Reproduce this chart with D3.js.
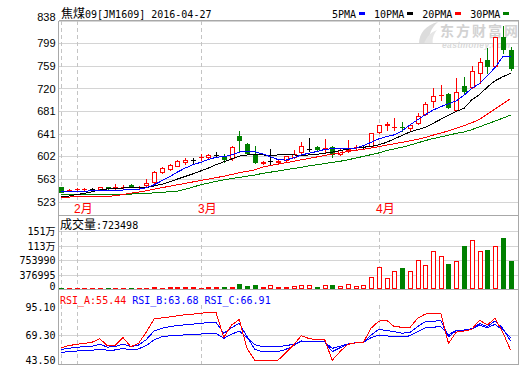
<!DOCTYPE html>
<html lang="zh">
<head>
<meta charset="utf-8">
<title>焦煤09 日K线</title>
<style>
body { margin: 0; background: #fff; }
svg { display: block; }
</style>
</head>
<body>
<script src="https://d3js.org/d3.v7.min.js"></script>
<script>
var w = 520, h = 365;

// trading days shown
var days = ["01-28","01-29",
  "02-01","02-02","02-03","02-04","02-05","02-15","02-16","02-17","02-18","02-19","02-22","02-23","02-24","02-25","02-26","02-29",
  "03-01","03-02","03-03","03-04","03-07","03-08","03-09","03-10","03-11","03-14","03-15","03-16","03-17","03-18","03-21","03-22","03-23","03-24","03-25","03-28","03-29","03-30","03-31",
  "04-01","04-05","04-06","04-07","04-08","04-11","04-12","04-13","04-14","04-15","04-18","04-19","04-20","04-21","04-22","04-25","04-26","04-27"];

var open  = [548,543,544,544,545,545,548,547,548,552,548,552,557,574,579,585,591,595,600,600,604,602,598,637,623,604,590,593,591,595,601,609,614,617,615,617,606,613,617,617,620,644,657,652,653,651,659,675,698,708,710,683,724,722,746,769,759,809,787];
var high  = [549,545,546,546,547,549,549,553,551,553,550,562,576,583,588,595,598,599,605,605,609,606,620,645,624,619,593,614,595,603,612,627,633,620,631,620,614,630,621,622,643,657,662,668,662,656,677,696,720,726,712,738,740,758,772,790,810,829,792];
var low   = [539,541,542,542,543,544,545,545,546,548,546,549,556,573,578,584,589,588,596,598,600,592,596,611,606,590,588,589,589,594,599,608,611,613,607,601,604,610,612,614,619,643,647,647,645,646,658,674,688,700,686,682,710,720,729,746,758,781,752];
var close = [540,543.5,544.5,544.5,545,548,546.5,547.5,549,549,548.5,556,575,581,586,593,596,595,601,604,604,597,617,630,607,592,592,593,594,602,606,619,614,615,616,606,613,614,618,617,642,656,658,653,652.5,656,671,693,706,708.5,687,714,716,750,766,759,809,789,756];

var volume = [30000,22000,25000,24000,20000,30000,28000,26000,25000,30000,22000,35000,40000,38000,60000,58000,62000,55000,30000,55000,50000,52000,60000,120000,70000,95000,
  52000,104000,52000,52000,69000,104000,104000,52000,104000,104000,69000,130000,69000,104000,312000,572000,286000,468000,554000,468000,754000,624000,988000,858000,658000,728000,1126000,1274000,988000,1022000,1118000,1334000,723498];

var ma5  = [540,540,540.5,541,541.5,542,542.5,543,543,543.5,544,547,552,559,566,574,581,587,591,596,600,601,604,609,610,609.5,606,601,596,595,599,604,607,610,613.5,615,615.5,615.5,616,620,626,632,636,639,646,656,665,674,682,688,693,698,708,720,728,742,756,775,775];
var ma10 = [532,532.5,535,537,540,543,545,546,546.5,546.5,546.5,547,550,553,557,562,566.5,571,576,581,587,592,597,602,604,604,604,603.5,604,604,604,603.5,604,605,607,609,611.5,614,616,617.5,619,621.5,626,632,638,644,648,652,659,666,673,680,685,700,709,722,733,740,746];
var ma20 = [530.5,530.8,531,531,531.2,531.4,532,533,535,537.5,539.5,541.5,544.5,547,549.5,552,554.5,557,559.5,562,564.5,567,570,573,575.5,578,583,585.5,588,590.5,593,595.5,598,600.5,603,605.5,607.5,610,612,614,616,618.5,621,623.5,626,628.5,631,634.5,638.5,642,646,650.5,655,660,666,675,684,693,702];
var ma30 = [535.5,535.5,535.6,535.7,535.8,535.8,535.9,536,536,536,536.2,537,538,539,540,541,544,548,552,555,558,560.5,563,565,567,569,572,574,576,578.5,580.5,582.5,585,587,589,591,593,595.5,598.5,601.5,604.5,607.5,611.5,614.5,617.5,621,625,629,632.5,635.5,638.5,641.5,644,648,653,658,663,668,673.5];

var rsiA = [57.6,59.5,60.7,61.5,62.6,66,59.2,60,67,58.5,61.5,72,84,85,86,87,88,88.5,89.3,90,90.2,67,78.5,83.5,57,46,45.5,45.5,46,53,60,68.7,66,65,65.5,46,54,60.7,62,62.2,75.5,82,83,77,76.5,76,84.5,88.6,89,89.3,61.6,72,73,74.5,83,78.5,84.7,72,55.44];
var rsiB = [56,57,58,58.5,59,60.7,58.2,58.5,61,58.5,60,65,73,75.5,77,78,78.7,79.3,80,80.7,81,71,76,80,68,56,54,54,54,56,59.5,63.8,63.5,63.3,63.3,54,57.5,60.5,62,62.6,69.3,74.5,73.5,72.3,71,71.5,77,81.6,82,82.5,67.7,73.3,73.6,74.5,80,77,82.2,75.5,63.68];
var rsiC = [53.3,54,54.5,55,55.2,56.4,55.2,55.5,57,55.5,56.5,59.5,64.7,67.7,68.5,69,69.4,69.8,70.2,70.6,70.9,66.2,70,73,67,60.5,58.5,58.5,58.5,59.5,60.7,63.1,63,63,63,57,59,61,62.2,62.5,66.8,69.3,68.5,67.7,67.7,68.5,72.3,76,76.5,77,69.3,73.9,73.9,75,78.5,76,79.1,73.9,66.91];

var priceTicks = [523,563,602,641,681,720,759,799,838];
var volTicks = [0,376995,753990,1130985,1507980];
var volTickLabels = ["0","376995","753990","113万","151万"];
var rsiTicks = [43.50,69.30,95.10];

var maNames = ["5PMA","10PMA","20PMA","30PMA"];
var maColors = ["#0000ff","#000000","#ff0000","#008000"];

var RED = "#ff0000", GREEN = "#008000", GRID = "#d4d4d4", BORDER = "#a8a8a8", DASH = "#c4c4c4";
var MONO = "DejaVu Sans Mono", CJK = "Noto Sans CJK SC";

var L = 58.5, R = 518.5;

var svg = d3.select("body").append("svg").attr("width", w).attr("height", h);

// scales
var x = d3.scaleLinear().domain([0, days.length - 1]).range([61, 510.5]);
var yP = d3.scaleLinear().domain([523, 838]).range([201.5, 20.5]);
var yV = d3.scaleLinear().domain([0, 1507980]).range([289, 231]);
var yR = d3.scaleLinear().domain([43.5, 95.1]).range([363, 307]);

function px(i) { return Math.round(x(i)) + 0.5; }
function cr(v) { return Math.round(v) + 0.5; }

// text with mixed latin / CJK runs
function mixed(g, str, tx, ty, color, anchor) {
  var t = g.append("text").attr("x", tx).attr("y", ty).attr("fill", color)
    .attr("text-anchor", anchor || "start");
  str.match(/[\u3000-\u9fff]+|[^\u3000-\u9fff]+/g).forEach(function(p) {
    var cjk = /[\u3000-\u9fff]/.test(p);
    t.append("tspan").attr("font-family", cjk ? CJK : MONO).attr("font-size", cjk ? 12 : 10).text(p);
  });
  return t;
}

// watermark
var wm = svg.append("g");
wm.append("path").attr("d", "M419,44 C419,33 426,25 438,22 C431,28 428,35 430,44 Z").attr("fill", "#dcdcdc");
wm.append("path").attr("d", "M424,44 C426,37 431,32 437,30 C433,35 432,40 433,44 Z").attr("fill", "#e6e6e6");
wm.append("text").attr("x", 440).attr("y", 36).attr("font-family", CJK).attr("font-weight", "bold")
  .attr("font-size", 14).attr("fill", "#d2d2d2").attr("textLength", 78).text("东方财富网");
wm.append("text").attr("x", 442).attr("y", 48).attr("font-family", "Liberation Sans").attr("font-style", "italic")
  .attr("font-weight", "bold").attr("font-size", 8.5).attr("fill", "#dadada").attr("textLength", 68).text("eastmoney.com");

// grid lines
var grid = svg.append("g").attr("stroke", GRID).attr("shape-rendering", "crispEdges");
priceTicks.forEach(function(v) {
  grid.append("line").attr("x1", L).attr("x2", R).attr("y1", cr(yP(v))).attr("y2", cr(yP(v)));
});
volTicks.forEach(function(v) {
  grid.append("line").attr("x1", L).attr("x2", R).attr("y1", cr(yV(v))).attr("y2", cr(yV(v)));
});
grid.append("line").attr("x1", L).attr("x2", R).attr("y1", cr(yR(69.3))).attr("y2", cr(yR(69.3)));

// month separators
var monthIdx = [];
days.forEach(function(d, i) {
  if (i === 0 || d.slice(0, 2) !== days[i - 1].slice(0, 2)) monthIdx.push(i);
});
var dash = svg.append("g").attr("stroke", DASH).attr("stroke-dasharray", "4,3").attr("shape-rendering", "crispEdges");
monthIdx.forEach(function(i) {
  [[20.5, 201.5], [231, 289], [305, 364]].forEach(function(r) {
    dash.append("line").attr("x1", px(i)).attr("x2", px(i)).attr("y1", r[0]).attr("y2", r[1]);
  });
});
svg.append("g").selectAll("text").data(monthIdx.slice(1)).enter().append("text")
  .attr("x", function(i) { return px(i) - 3.5; })
  .attr("y", 213)
  .attr("fill", RED)
  .attr("font-family", "Liberation Sans, " + CJK)
  .attr("font-size", 12)
  .text(function(i) { return (+days[i].slice(0, 2)) + "月"; });

// borders
var bd = svg.append("g").attr("stroke", BORDER).attr("fill", "none").attr("shape-rendering", "crispEdges");
[20.5, 215.5, 289.5, 364.5].forEach(function(yy) {
  bd.append("line").attr("x1", L).attr("x2", R).attr("y1", yy).attr("y2", yy);
});
bd.append("line").attr("x1", L).attr("x2", L).attr("y1", 20.5).attr("y2", 364.5);
bd.append("line").attr("x1", R).attr("x2", R).attr("y1", 20.5).attr("y2", 364.5);

// candles
var candles = svg.append("g").attr("shape-rendering", "crispEdges");
days.forEach(function(d, i) {
  var o = open[i], c = close[i];
  var col = c > o ? RED : (c < o ? GREEN : "#000");
  var cx = px(i);
  candles.append("line").attr("x1", cx).attr("x2", cx)
    .attr("y1", Math.round(yP(high[i]))).attr("y2", Math.round(yP(low[i])) + 1)
    .attr("stroke", col);
  var top = Math.round(yP(Math.max(o, c))), bot = Math.round(yP(Math.min(o, c)));
  if (bot - top < 1) {
    candles.append("line").attr("x1", cx - 2.5).attr("x2", cx + 2.5)
      .attr("y1", top + 0.5).attr("y2", top + 0.5).attr("stroke", col);
  } else {
    candles.append("rect").attr("x", cx - 2).attr("y", top + 0.5)
      .attr("width", 4).attr("height", bot - top)
      .attr("fill", c > o ? "#fff" : col).attr("stroke", col);
  }
});

// moving averages
var line = d3.line().x(function(d, i) { return x(i); }).y(function(d) { return yP(d); });
[ma30, ma20, ma10, ma5].forEach(function(s, k) {
  svg.append("path").datum(s).attr("d", line).attr("fill", "none")
    .attr("stroke", maColors[3 - k]).attr("stroke-width", 1).attr("shape-rendering", "crispEdges");
});

// volume bars
svg.append("g").attr("shape-rendering", "crispEdges").selectAll("rect").data(volume).enter().append("rect")
  .attr("x", function(d, i) { return px(i) - 2; })
  .attr("y", function(d) { return Math.min(Math.round(yV(d)), 288) + 0.5; })
  .attr("width", 4)
  .attr("height", function(d) { return Math.max(288 - Math.min(Math.round(yV(d)), 288), 0.01); })
  .attr("fill", function(d, i) { return close[i] < open[i] ? GREEN : "#fff"; })
  .attr("stroke", function(d, i) { return close[i] < open[i] ? GREEN : RED; });

// RSI lines
var rline = d3.line().x(function(d, i) { return x(i); }).y(function(d) { return yR(d); });
[[rsiC, "#0000ff"], [rsiB, "#0000ff"], [rsiA, RED]].forEach(function(p) {
  svg.append("path").datum(p[0]).attr("d", rline).attr("fill", "none")
    .attr("stroke", p[1]).attr("stroke-width", 1).attr("shape-rendering", "crispEdges");
});

// axes
var ap = svg.append("g").attr("transform", "translate(" + L + ",0)")
  .call(d3.axisLeft(yP).tickValues(priceTicks).tickSize(0).tickPadding(3).tickFormat(d3.format("d")));
ap.select(".domain").remove();
ap.selectAll("text").attr("font-family", "Liberation Sans").attr("font-size", 11).attr("fill", "#000")
  .attr("dy", function(d) { return d === 838 ? "0" : "0.35em"; });

var av = svg.append("g").attr("transform", "translate(" + L + ",0)")
  .call(d3.axisLeft(yV).tickValues(volTicks).tickSize(0).tickPadding(3)
    .tickFormat(function(d, i) { return volTickLabels[i]; }));
av.select(".domain").remove();
av.selectAll("text").attr("font-family", MONO).attr("font-size", 10).attr("fill", "#000")
  .attr("dy", function(d) { return d === 0 ? "0" : "0.35em"; })
  .each(function() {
    var t = d3.select(this), s = t.text();
    if (s.indexOf("万") < 0) return;
    t.text("");
    t.append("tspan").text(s.replace("万", ""));
    t.append("tspan").attr("font-family", CJK).attr("font-size", 10).text("万");
  });

var ar = svg.append("g").attr("transform", "translate(" + L + ",0)")
  .call(d3.axisLeft(yR).tickValues(rsiTicks).tickSize(0).tickPadding(3).tickFormat(d3.format(".2f")));
ar.select(".domain").remove();
ar.selectAll("text").attr("font-family", MONO).attr("font-size", 10).attr("fill", "#000")
  .attr("dy", function(d) { return d === 43.5 ? "0" : "0.35em"; });

// titles and legends
var txt = svg.append("g");
mixed(txt, "焦煤09[JM1609] 2016-" + days[days.length - 1], 61, 18, "#000");

var lx = 332;
maNames.forEach(function(n, k) {
  txt.append("text").attr("x", lx).attr("y", 18).attr("font-family", MONO).attr("font-size", 10)
    .attr("fill", "#000").text(n);
  lx += n.length * 6.02 + 3;
  txt.append("rect").attr("x", Math.round(lx)).attr("y", 12).attr("width", 6).attr("height", 3)
    .attr("fill", maColors[k]);
  lx += 15;
});

mixed(txt, "成交量:" + volume[volume.length - 1], 60, 229, "#000");

var last = days.length - 1;
var rx = 60;
[["RSI_A", rsiA, RED], ["RSI_B", rsiB, "#0000ff"], ["RSI_C", rsiC, "#0000ff"]].forEach(function(r) {
  var s = r[0] + ":" + r[1][last].toFixed(2);
  txt.append("text").attr("x", rx).attr("y", 304).attr("font-family", MONO).attr("font-size", 10)
    .attr("fill", r[2]).text(s);
  rx += s.length * 6.02 + 6;
});
</script>
</body>
</html>
